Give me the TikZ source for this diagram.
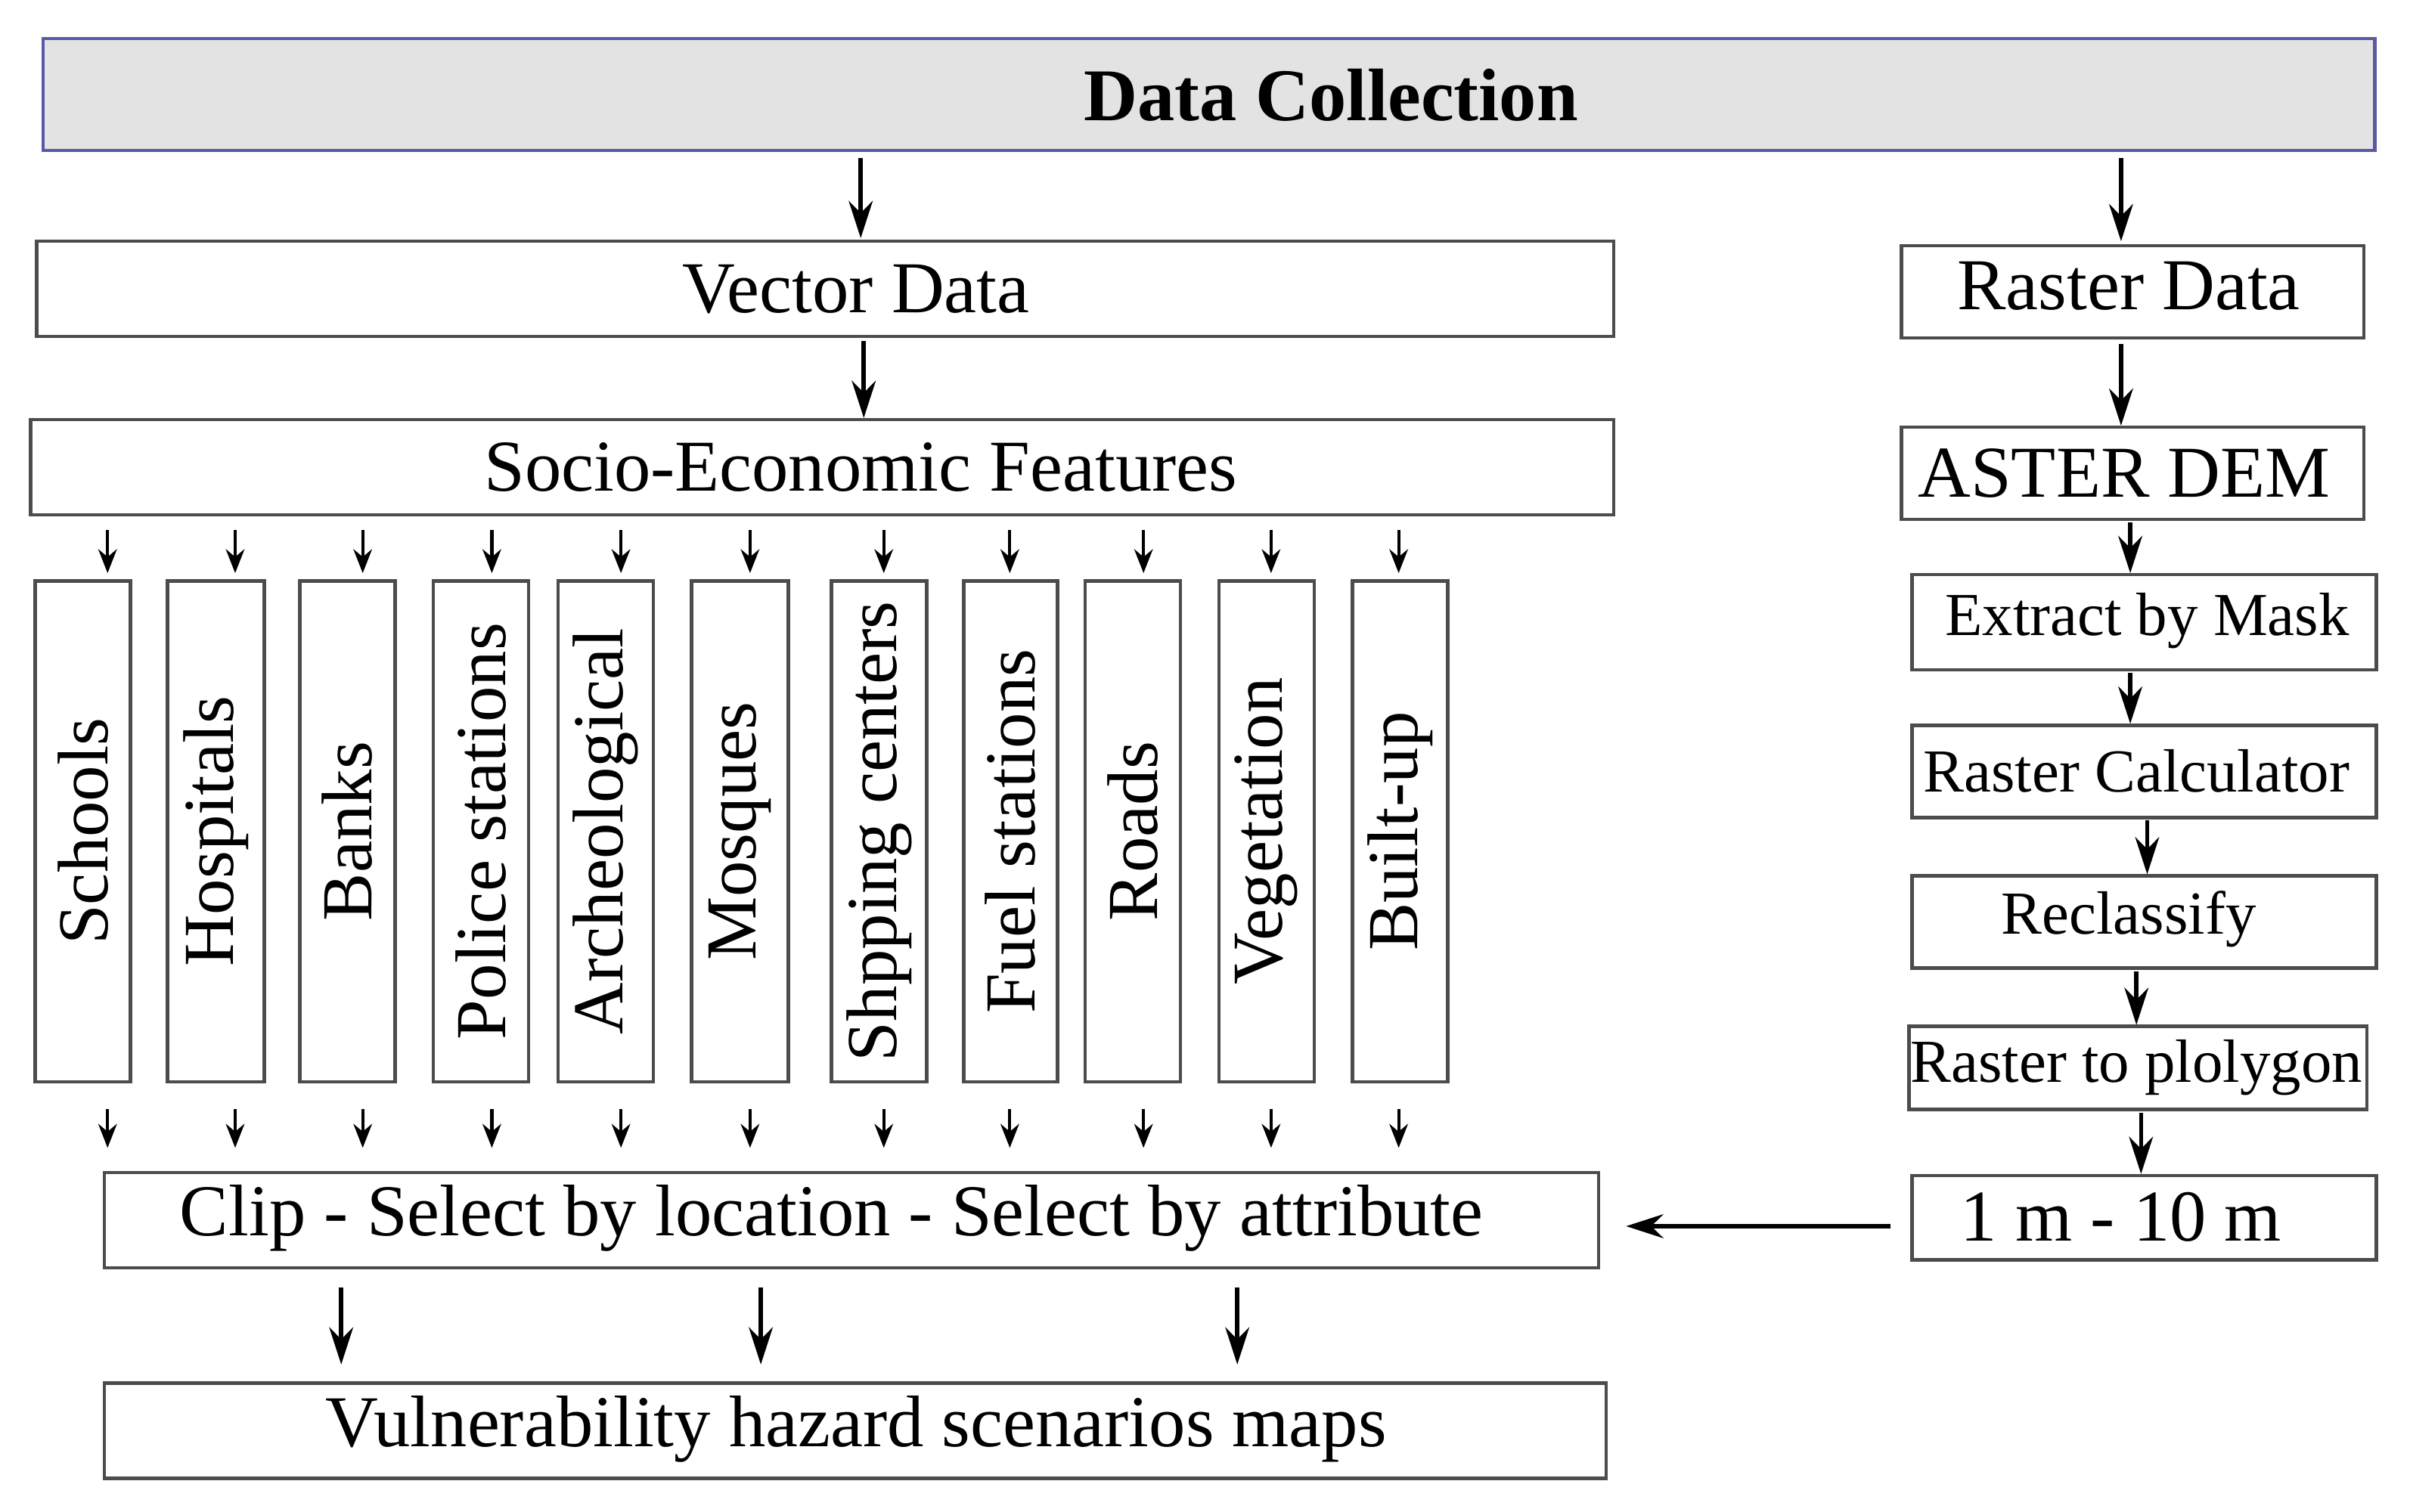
\documentclass[tikz,border=0pt]{standalone}
\usepackage{fontspec}
\setmainfont{Liberation Serif}
\usetikzlibrary{arrows.meta}
\begin{document}
\begin{tikzpicture}[x=0.020325cm,y=-0.020325cm,
 box/.style={draw=black!70,line width=1.3pt},
 lab/.style={font=\fontsize{27.5}{30}\selectfont},
 slab/.style={font=\fontsize{23}{26}\selectfont},
 vlab/.style={font=\fontsize{27}{30}\selectfont,rotate=90},
 arr/.style={line width=1.6pt,-{Stealth[length=14pt,width=9pt]}},
 sarr/.style={line width=1.2pt,-{Stealth[length=9pt,width=7pt]}}]
\useasboundingbox (0,0) rectangle (1568,984);
\draw[box,draw=blue!30!gray,fill=gray!22] (28,25) rectangle (1545,98);
\node[font=\fontsize{28}{32}\selectfont\bfseries] (dc) at (866,62) {Data Collection};
\draw[box] (24,157) rectangle (1050,219); \node[lab] (vd) at (557,188) {Vector Data};
\draw[box] (1237,160) rectangle (1538,220); \node[lab] (rd) at (1385,186) {Raster Data};
\draw[box] (20,273) rectangle (1050,335); \node[lab] (se) at (560,304) {Socio-Economic Features};
\draw[box] (1237,278) rectangle (1538,338); \node[lab] (ad) at (1382,308) {ASTER DEM};
\draw[box] (1244,374) rectangle (1546,436); \node[slab] (em) at (1397,404) {Extract by Mask};
\draw[box] (1244,472) rectangle (1546,532); \node[slab] (rc) at (1390,502) {Raster Calculator};
\draw[box] (1244,570) rectangle (1546,630); \node[slab] (rcl) at (1385,598) {Reclassify};
\draw[box] (1242,668) rectangle (1540,722); \node[slab] (rp) at (1390,695) {Raster to plolygon};
\draw[box] (1244,765) rectangle (1546,820); \node[lab] (m) at (1380,792) {1 m - 10 m};
\draw[box] (68,763) rectangle (1040,825); \node[lab] (clip) at (541,793) {Clip - Select by location - Select by attribute};
\draw[box] (68,900) rectangle (1045,962); \node[lab] (vul) at (557,930) {Vulnerability hazard scenarios maps};
\coordinate (a1) at (560,103); \coordinate (a2) at (560,155); \draw[arr] (a1)--(a2);
\coordinate (b1) at (1380,103); \coordinate (b2) at (1380,157); \draw[arr] (b1)--(b2);
\coordinate (c1) at (562,222); \coordinate (c2) at (562,272); \draw[arr] (c1)--(c2);
\coordinate (d1) at (1380,224); \coordinate (d2) at (1380,277); \draw[arr] (d1)--(d2);
\coordinate (e1) at (1386,340); \coordinate (e2) at (1386,373); \draw[arr] (e1)--(e2);
\coordinate (f1) at (1386,438); \coordinate (f2) at (1386,471); \draw[arr] (f1)--(f2);
\coordinate (g1) at (1397,534); \coordinate (g2) at (1397,569); \draw[arr] (g1)--(g2);
\coordinate (h1) at (1390,632); \coordinate (h2) at (1390,667); \draw[arr] (h1)--(h2);
\coordinate (i1) at (1393,724); \coordinate (i2) at (1393,764); \draw[arr] (i1)--(i2);
\coordinate (j1) at (1230,798); \coordinate (j2) at (1058,798); \draw[arr] (j1)--(j2);
\foreach \x in {222,495,805}{\coordinate (k1) at (\x,838); \coordinate (k2) at (\x,888); \draw[arr] (k1)--(k2);}
\foreach \a/\b/\ax/\t in {23/85/70/Schools,109/172/153/Hospitals,195/257/236/Banks,282/344/320/Police stations,363/425/404/Archeological,450/513/488/Mosques,541/603/575/Shpping centers,627/688/657/Fuel  stations,706/768/744/Roads,793/855/827/Vegetation,880/942/910/Built-up}{
 \draw[box] (\a,378) rectangle (\b,704);
 \node[vlab] (v\a) at ({(\a+\b)/2},541) {\t};
 \coordinate (p1) at (\ax,345); \coordinate (p2) at (\ax,373); \draw[sarr] (p1)--(p2);
 \coordinate (q1) at (\ax,722); \coordinate (q2) at (\ax,747); \draw[sarr] (q1)--(q2);
}
\end{tikzpicture}
\end{document}
